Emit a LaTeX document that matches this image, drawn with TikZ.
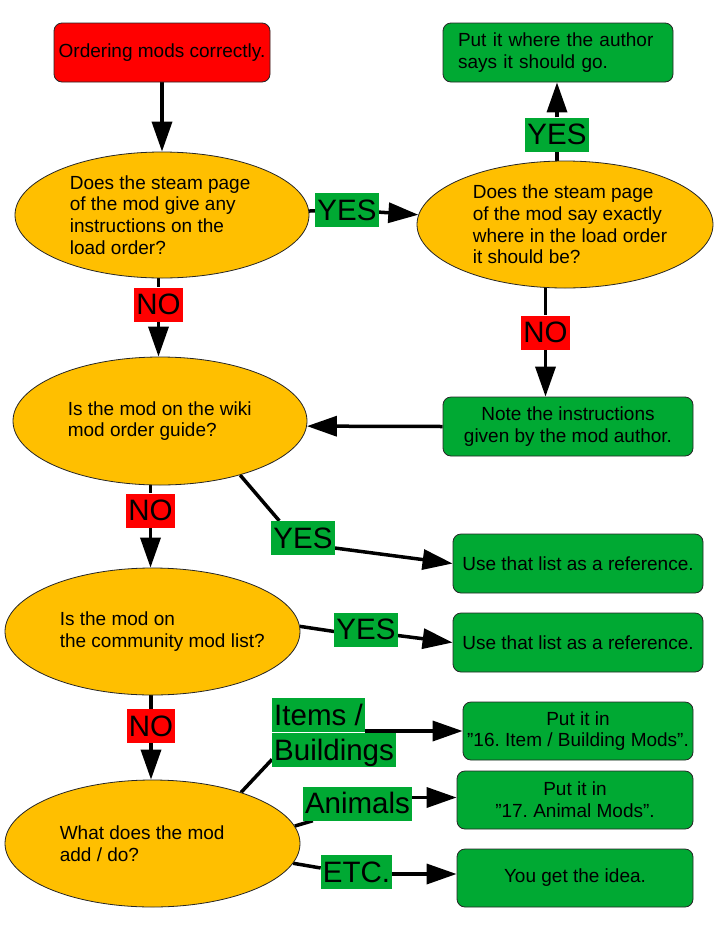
\documentclass[tikz,border=0pt]{standalone}
\usepackage{fontspec}
\setmainfont{Liberation Sans}
\usetikzlibrary{shapes.geometric,arrows.meta,backgrounds}

\definecolor{flowred}{HTML}{FF0000}
\definecolor{flowgold}{HTML}{FFBF00}
\definecolor{flowgreen}{HTML}{00A933}

\frenchspacing

\begin{document}
\begin{tikzpicture}[x=1pt,y=-1pt,
  every node/.style={font=\fontsize{19}{21.7}\selectfont, text=black},
  card/.style={rectangle, rounded corners=8pt, draw=black!85, line width=0.8pt,
    inner sep=0pt, align=center},
  goal/.style={card, fill=flowgreen},
  ask/.style={ellipse, draw=black!85, line width=0.8pt, fill=flowgold, inner sep=0pt},
  asktext/.style={anchor=west, align=left, inner sep=0pt},
  tag/.style={font=\fontsize{29.5}{34}\selectfont, inner xsep=2pt, inner ysep=0pt,
    text height=27pt, text depth=7pt},
  yes/.style={tag, fill=flowgreen},
  no/.style={tag, fill=flowred},
  link/.style={line width=3.5pt},
  arr/.style={link, -{Triangle[length=30pt,width=20pt]}},
]
\useasboundingbox (0,0) rectangle (719,927);

% start and first question
\node[card, fill=flowred, minimum width=216pt, minimum height=59pt] (start) at (162,52.5)
  {Ordering mods correctly.};
\node[ask, minimum width=294pt, minimum height=126pt] (q1) at (162,215) {};
\node[asktext] (q1t) at ([xshift=55pt]q1.west)
  {Does the steam page\\of the mod give any\\instructions on the\\load order?};

% steam page branch
\node[ask, minimum width=296pt, minimum height=127pt] (q2) at (565,224.5) {};
\node[asktext] (q2t) at ([xshift=56pt]q2.west)
  {Does the steam page\\of the mod say exactly\\where in the load order\\it should be?};
\node[goal, minimum width=230pt, minimum height=59pt, align=left, text width=200pt] (done1)
  at (558,52.5) {Put it where the author\\says it should go.};
\node[goal, minimum width=250pt, minimum height=59pt] (note) at (568,426.5)
  {Note the instructions\\given by the mod author.};

% wiki guide
\node[ask, minimum width=294pt, minimum height=128pt] (q3) at (160,421) {};
\node[asktext] (q3t) at ([xshift=55pt]q3.west) {Is the mod on the wiki\\mod order guide?};
\node[goal, minimum width=250pt, minimum height=59pt] (use1) at (578,563.5)
  {Use that list as a reference.};

% community list
\node[ask, minimum width=295pt, minimum height=127pt] (q4) at (152.5,631.5) {};
\node[asktext] (q4t) at ([xshift=55pt]q4.west) {Is the mod on\\the community mod list?};
\node[goal, minimum width=250pt, minimum height=59pt] (use2) at (578,642.5)
  {Use that list as a reference.};

% what the mod adds
\node[ask, minimum width=295pt, minimum height=127pt] (q5) at (152.5,843.5) {};
\node[asktext] (q5t) at ([xshift=55pt]q5.west) {What does the mod\\add / do?};
\node[goal, minimum width=230pt, minimum height=58pt] (box3) at (578,731)
  {Put it in\\"16. Item / Building Mods”.};
\node[goal, minimum width=236pt, minimum height=58pt] (box4) at (575,800)
  {Put it in\\"17. Animal Mods”.};
\node[goal, minimum width=236pt, minimum height=58pt] (box5) at (575,878)
  {You get the idea.};

% answer tags
\node[yes] (yesA) at (347,210) {YES};
\node[yes] (yesB) at (557,134.5) {YES};
\node[no] (noA) at (545.5,332.5) {NO};
\node[no] (noB) at (158.5,304.5) {NO};
\node[no] (noC) at (150.5,510.5) {NO};
\node[yes] (yesC) at (303,538) {YES};
\node[yes] (yesD) at (366,629.5) {YES};
\node[no] (noD) at (151,726) {NO};
\node[yes, anchor=north west] (itemsA) at (272,698) {Items /};
\node[yes, anchor=north west] (itemsB) at (272,733) {Buildings};
\node[yes] (animals) at (357.5,803.5) {Animals};
\node[yes] (etc) at (356.5,872) {ETC.};

\coordinate (animalsOut) at ([yshift=6pt]animals.east);
\coordinate (etcOut) at ([yshift=-2pt]etc.east);

\begin{pgfonlayer}{background}
  \fill[white] (0,0) rectangle (719,927);
  \draw[arr] (start) -- (q1);
  \draw[link] (q1) -- (yesA);
  \draw[arr] (yesA) -- (q2);
  \draw[link] (yesB |- q2.center) -- (yesB);
  \draw[arr] (yesB) -- (yesB |- done1.south);
  \draw[link] (noA |- q2.center) -- (noA);
  \draw[arr] (noA) -- (noA |- note.north);
  \draw[arr] (note.west) -- (q3.-2);
  \draw[link] (noB |- q1.center) -- (noB);
  \draw[arr] (noB) -- (noB |- q3.north);
  \draw[link] (noC |- q3.center) -- (noC);
  \draw[arr] (noC) -- (noC |- q4.north);
  \draw[link] (q3.-34) -- ([xshift=8pt]yesC.north west);
  \draw[arr] ([yshift=-10pt]yesC.east) -- (use1.west);
  \draw[link] (q4.2) -- ([yshift=-2pt]yesD.west);
  \draw[arr] ([yshift=-6pt]yesD.east) -- (use2.west);
  \draw[link] (noD |- q4.center) -- (noD);
  \draw[arr] (noD) -- (noD |- q5.north);
  \draw[link] (q5.30) -- ([yshift=8pt]itemsB.south west);
  \draw[arr] (itemsA.east |- box3.west) -- (box3.west);
  \draw[link] (q5.7) -- ([xshift=10pt]animals.south west);
  \draw[arr] (animalsOut) -- (animalsOut -| box4.west);
  \draw[link] (q5.-8) -- ([yshift=4pt]etc.west);
  \draw[arr] (etcOut) -- (etcOut -| box5.west);
\end{pgfonlayer}
\end{tikzpicture}
\end{document}
